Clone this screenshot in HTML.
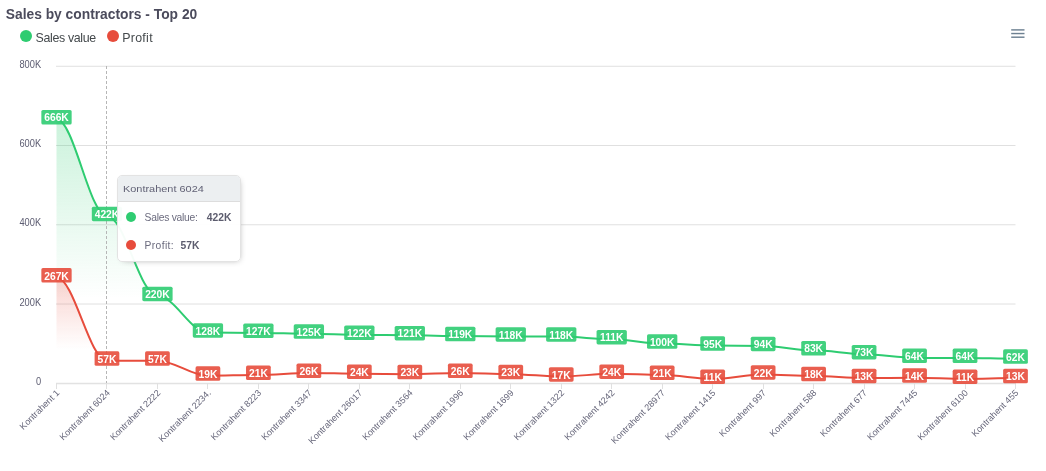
<!DOCTYPE html>
<html><head><meta charset="utf-8"><style>
html,body{margin:0;padding:0;background:#fff;width:1046px;height:471px;overflow:hidden;position:relative}
</style></head><body>
<svg width="1046" height="471" viewBox="0 0 1046 471" style="position:absolute;left:0;top:0;will-change:transform"><defs><linearGradient id="gG" x1="0" y1="0" x2="0" y2="1"><stop offset="0" stop-color="#2ecc71" stop-opacity="0.25"/><stop offset="0.68" stop-color="#2ecc71" stop-opacity="0"/></linearGradient><linearGradient id="gR" x1="0" y1="0" x2="0" y2="1"><stop offset="0" stop-color="#e74c3c" stop-opacity="0.25"/><stop offset="0.68" stop-color="#e74c3c" stop-opacity="0"/></linearGradient></defs><text x="5.8" y="19.1" font-family="'Liberation Sans', sans-serif" font-weight="bold" font-size="13.8" fill="#4b4b5c">Sales by contractors - Top 20</text><circle cx="26" cy="36" r="6" fill="#2ecc71"/><text x="35.6" y="41.9" font-family="'Liberation Sans', sans-serif" font-size="12.4" letter-spacing="-0.35" fill="#44494c">Sales value</text><circle cx="113" cy="36" r="6" fill="#e74c3c"/><text x="122.2" y="41.9" font-family="'Liberation Sans', sans-serif" font-size="12.4" letter-spacing="0.3" fill="#44494c">Profit</text><rect x="1011.2" y="29.18" width="13.3" height="1.44" fill="#6e8192"/><rect x="1011.2" y="32.83" width="13.3" height="1.44" fill="#6e8192"/><rect x="1011.2" y="36.48" width="13.3" height="1.44" fill="#6e8192"/><line x1="56.0" y1="66.25" x2="1015.5" y2="66.25" stroke="#e0e0e0" stroke-width="1"/><line x1="56.0" y1="145.5" x2="1015.5" y2="145.5" stroke="#e0e0e0" stroke-width="1"/><line x1="56.0" y1="224.75" x2="1015.5" y2="224.75" stroke="#e0e0e0" stroke-width="1"/><line x1="56.0" y1="304.0" x2="1015.5" y2="304.0" stroke="#e0e0e0" stroke-width="1"/><line x1="56.0" y1="383.25" x2="1015.5" y2="383.25" stroke="#e0e0e0" stroke-width="1"/><text transform="translate(41.1 67.75) scale(0.93 1)" text-anchor="end" font-family="'Liberation Sans', sans-serif" font-size="10" fill="#5d5d72">800K</text><text transform="translate(41.1 147.00) scale(0.93 1)" text-anchor="end" font-family="'Liberation Sans', sans-serif" font-size="10" fill="#5d5d72">600K</text><text transform="translate(41.1 226.25) scale(0.93 1)" text-anchor="end" font-family="'Liberation Sans', sans-serif" font-size="10" fill="#5d5d72">400K</text><text transform="translate(41.1 305.50) scale(0.93 1)" text-anchor="end" font-family="'Liberation Sans', sans-serif" font-size="10" fill="#5d5d72">200K</text><text transform="translate(41.1 384.75) scale(0.93 1)" text-anchor="end" font-family="'Liberation Sans', sans-serif" font-size="10" fill="#5d5d72">0</text><path d="M56.50,119.35 C74.17,119.35 89.31,216.03 106.97,216.03 C124.64,216.03 139.78,296.07 157.45,296.07 C175.11,296.07 190.26,332.53 207.92,332.53 C225.59,332.53 240.73,332.93 258.39,332.93 C276.06,332.93 291.20,333.72 308.87,333.72 C326.53,333.72 341.68,334.91 359.34,334.91 C377.01,334.91 392.15,335.30 409.82,335.30 C427.48,335.30 442.62,336.10 460.29,336.10 C477.96,336.10 493.10,336.49 510.76,336.49 C528.43,336.49 543.57,336.49 561.24,336.49 C578.90,336.49 594.04,339.27 611.71,339.27 C629.38,339.27 644.52,343.62 662.18,343.62 C679.85,343.62 694.99,345.61 712.66,345.61 C730.32,345.61 745.47,346.00 763.13,346.00 C780.80,346.00 795.94,350.36 813.61,350.36 C831.27,350.36 846.41,354.32 864.08,354.32 C881.74,354.32 896.89,357.89 914.55,357.89 C932.22,357.89 947.36,357.89 965.03,357.89 C982.69,357.89 997.83,358.68 1015.50,358.68 L1015.5,383.25 L56.5,383.25 Z" fill="url(#gG)"/><path d="M56.50,277.45 C74.17,277.45 89.31,360.66 106.97,360.66 C124.64,360.66 139.78,360.66 157.45,360.66 C175.11,360.66 190.26,375.72 207.92,375.72 C225.59,375.72 240.73,374.93 258.39,374.93 C276.06,374.93 291.20,372.95 308.87,372.95 C326.53,372.95 341.68,373.74 359.34,373.74 C377.01,373.74 392.15,374.14 409.82,374.14 C427.48,374.14 442.62,372.95 460.29,372.95 C477.96,372.95 493.10,374.14 510.76,374.14 C528.43,374.14 543.57,376.51 561.24,376.51 C578.90,376.51 594.04,373.74 611.71,373.74 C629.38,373.74 644.52,374.93 662.18,374.93 C679.85,374.93 694.99,378.89 712.66,378.89 C730.32,378.89 745.47,374.53 763.13,374.53 C780.80,374.53 795.94,376.12 813.61,376.12 C831.27,376.12 846.41,378.10 864.08,378.10 C881.74,378.10 896.89,377.70 914.55,377.70 C932.22,377.70 947.36,378.89 965.03,378.89 C982.69,378.89 997.83,378.10 1015.50,378.10 L1015.5,383.25 L56.5,383.25 Z" fill="url(#gR)"/><line x1="106.5" y1="66" x2="106.5" y2="383" stroke="#b6b6b6" stroke-width="1" stroke-dasharray="3 2"/><line x1="56.0" y1="383.8" x2="1016.0" y2="383.8" stroke="#e0e0e0" stroke-width="1.1"/><line x1="56.5" y1="383" x2="56.5" y2="389" stroke="#e0e0e0" stroke-width="1"/><line x1="106.5" y1="383" x2="106.5" y2="389" stroke="#e0e0e0" stroke-width="1"/><line x1="157.5" y1="383" x2="157.5" y2="389" stroke="#e0e0e0" stroke-width="1"/><line x1="207.5" y1="383" x2="207.5" y2="389" stroke="#e0e0e0" stroke-width="1"/><line x1="258.5" y1="383" x2="258.5" y2="389" stroke="#e0e0e0" stroke-width="1"/><line x1="308.5" y1="383" x2="308.5" y2="389" stroke="#e0e0e0" stroke-width="1"/><line x1="359.5" y1="383" x2="359.5" y2="389" stroke="#e0e0e0" stroke-width="1"/><line x1="409.5" y1="383" x2="409.5" y2="389" stroke="#e0e0e0" stroke-width="1"/><line x1="460.5" y1="383" x2="460.5" y2="389" stroke="#e0e0e0" stroke-width="1"/><line x1="510.5" y1="383" x2="510.5" y2="389" stroke="#e0e0e0" stroke-width="1"/><line x1="561.5" y1="383" x2="561.5" y2="389" stroke="#e0e0e0" stroke-width="1"/><line x1="611.5" y1="383" x2="611.5" y2="389" stroke="#e0e0e0" stroke-width="1"/><line x1="662.5" y1="383" x2="662.5" y2="389" stroke="#e0e0e0" stroke-width="1"/><line x1="712.5" y1="383" x2="712.5" y2="389" stroke="#e0e0e0" stroke-width="1"/><line x1="763.5" y1="383" x2="763.5" y2="389" stroke="#e0e0e0" stroke-width="1"/><line x1="813.5" y1="383" x2="813.5" y2="389" stroke="#e0e0e0" stroke-width="1"/><line x1="864.5" y1="383" x2="864.5" y2="389" stroke="#e0e0e0" stroke-width="1"/><line x1="914.5" y1="383" x2="914.5" y2="389" stroke="#e0e0e0" stroke-width="1"/><line x1="965.5" y1="383" x2="965.5" y2="389" stroke="#e0e0e0" stroke-width="1"/><line x1="1015.5" y1="383" x2="1015.5" y2="389" stroke="#e0e0e0" stroke-width="1"/><path d="M56.50,119.35 C74.17,119.35 89.31,216.03 106.97,216.03 C124.64,216.03 139.78,296.07 157.45,296.07 C175.11,296.07 190.26,332.53 207.92,332.53 C225.59,332.53 240.73,332.93 258.39,332.93 C276.06,332.93 291.20,333.72 308.87,333.72 C326.53,333.72 341.68,334.91 359.34,334.91 C377.01,334.91 392.15,335.30 409.82,335.30 C427.48,335.30 442.62,336.10 460.29,336.10 C477.96,336.10 493.10,336.49 510.76,336.49 C528.43,336.49 543.57,336.49 561.24,336.49 C578.90,336.49 594.04,339.27 611.71,339.27 C629.38,339.27 644.52,343.62 662.18,343.62 C679.85,343.62 694.99,345.61 712.66,345.61 C730.32,345.61 745.47,346.00 763.13,346.00 C780.80,346.00 795.94,350.36 813.61,350.36 C831.27,350.36 846.41,354.32 864.08,354.32 C881.74,354.32 896.89,357.89 914.55,357.89 C932.22,357.89 947.36,357.89 965.03,357.89 C982.69,357.89 997.83,358.68 1015.50,358.68" fill="none" stroke="#2ecc71" stroke-width="2" stroke-linecap="butt"/><path d="M56.50,277.45 C74.17,277.45 89.31,360.66 106.97,360.66 C124.64,360.66 139.78,360.66 157.45,360.66 C175.11,360.66 190.26,375.72 207.92,375.72 C225.59,375.72 240.73,374.93 258.39,374.93 C276.06,374.93 291.20,372.95 308.87,372.95 C326.53,372.95 341.68,373.74 359.34,373.74 C377.01,373.74 392.15,374.14 409.82,374.14 C427.48,374.14 442.62,372.95 460.29,372.95 C477.96,372.95 493.10,374.14 510.76,374.14 C528.43,374.14 543.57,376.51 561.24,376.51 C578.90,376.51 594.04,373.74 611.71,373.74 C629.38,373.74 644.52,374.93 662.18,374.93 C679.85,374.93 694.99,378.89 712.66,378.89 C730.32,378.89 745.47,374.53 763.13,374.53 C780.80,374.53 795.94,376.12 813.61,376.12 C831.27,376.12 846.41,378.10 864.08,378.10 C881.74,378.10 896.89,377.70 914.55,377.70 C932.22,377.70 947.36,378.89 965.03,378.89 C982.69,378.89 997.83,378.10 1015.50,378.10" fill="none" stroke="#e74c3c" stroke-width="2" stroke-linecap="butt"/><text x="60.00" y="393.5" text-anchor="end" transform="rotate(-45 60.00 393.5)" font-family="'Liberation Sans', sans-serif" font-size="9.05" fill="#66667a">Kontrahent 1</text><text x="110.47" y="393.5" text-anchor="end" transform="rotate(-45 110.47 393.5)" font-family="'Liberation Sans', sans-serif" font-size="9.05" fill="#66667a">Kontrahent 6024</text><text x="160.95" y="393.5" text-anchor="end" transform="rotate(-45 160.95 393.5)" font-family="'Liberation Sans', sans-serif" font-size="9.05" fill="#66667a">Kontrahent 2222</text><text x="211.42" y="393.5" text-anchor="end" transform="rotate(-45 211.42 393.5)" font-family="'Liberation Sans', sans-serif" font-size="9.05" fill="#66667a">Kontrahent 2234.</text><text x="261.89" y="393.5" text-anchor="end" transform="rotate(-45 261.89 393.5)" font-family="'Liberation Sans', sans-serif" font-size="9.05" fill="#66667a">Kontrahent 8223</text><text x="312.37" y="393.5" text-anchor="end" transform="rotate(-45 312.37 393.5)" font-family="'Liberation Sans', sans-serif" font-size="9.05" fill="#66667a">Kontrahent 3347</text><text x="362.84" y="393.5" text-anchor="end" transform="rotate(-45 362.84 393.5)" font-family="'Liberation Sans', sans-serif" font-size="9.05" fill="#66667a">Kontrahent 26017</text><text x="413.32" y="393.5" text-anchor="end" transform="rotate(-45 413.32 393.5)" font-family="'Liberation Sans', sans-serif" font-size="9.05" fill="#66667a">Kontrahent 3564</text><text x="463.79" y="393.5" text-anchor="end" transform="rotate(-45 463.79 393.5)" font-family="'Liberation Sans', sans-serif" font-size="9.05" fill="#66667a">Kontrahent 1996</text><text x="514.26" y="393.5" text-anchor="end" transform="rotate(-45 514.26 393.5)" font-family="'Liberation Sans', sans-serif" font-size="9.05" fill="#66667a">Kontrahent 1699</text><text x="564.74" y="393.5" text-anchor="end" transform="rotate(-45 564.74 393.5)" font-family="'Liberation Sans', sans-serif" font-size="9.05" fill="#66667a">Kontrahent 1322</text><text x="615.21" y="393.5" text-anchor="end" transform="rotate(-45 615.21 393.5)" font-family="'Liberation Sans', sans-serif" font-size="9.05" fill="#66667a">Kontrahent 4242</text><text x="665.68" y="393.5" text-anchor="end" transform="rotate(-45 665.68 393.5)" font-family="'Liberation Sans', sans-serif" font-size="9.05" fill="#66667a">Kontrahent 28977</text><text x="716.16" y="393.5" text-anchor="end" transform="rotate(-45 716.16 393.5)" font-family="'Liberation Sans', sans-serif" font-size="9.05" fill="#66667a">Kontrahent 1415</text><text x="766.63" y="393.5" text-anchor="end" transform="rotate(-45 766.63 393.5)" font-family="'Liberation Sans', sans-serif" font-size="9.05" fill="#66667a">Kontrahent 997</text><text x="817.11" y="393.5" text-anchor="end" transform="rotate(-45 817.11 393.5)" font-family="'Liberation Sans', sans-serif" font-size="9.05" fill="#66667a">Kontrahent 588</text><text x="867.58" y="393.5" text-anchor="end" transform="rotate(-45 867.58 393.5)" font-family="'Liberation Sans', sans-serif" font-size="9.05" fill="#66667a">Kontrahent 677</text><text x="918.05" y="393.5" text-anchor="end" transform="rotate(-45 918.05 393.5)" font-family="'Liberation Sans', sans-serif" font-size="9.05" fill="#66667a">Kontrahent 7445</text><text x="968.53" y="393.5" text-anchor="end" transform="rotate(-45 968.53 393.5)" font-family="'Liberation Sans', sans-serif" font-size="9.05" fill="#66667a">Kontrahent 6100</text><text x="1019.00" y="393.5" text-anchor="end" transform="rotate(-45 1019.00 393.5)" font-family="'Liberation Sans', sans-serif" font-size="9.05" fill="#66667a">Kontrahent 455</text><rect x="41.35" y="110.00" width="30.30" height="14.5" rx="1.6" fill="#2ecc71" fill-opacity="0.9"/><text transform="translate(56.50 121.45) scale(0.2575 0.25)" text-anchor="middle" font-family="'Liberation Sans', sans-serif" font-weight="bold" font-size="40" fill="#fff">666K</text><rect x="91.82" y="206.68" width="30.30" height="14.5" rx="1.6" fill="#2ecc71" fill-opacity="0.9"/><text transform="translate(106.97 218.13) scale(0.2575 0.25)" text-anchor="middle" font-family="'Liberation Sans', sans-serif" font-weight="bold" font-size="40" fill="#fff">422K</text><rect x="142.30" y="286.72" width="30.30" height="14.5" rx="1.6" fill="#2ecc71" fill-opacity="0.9"/><text transform="translate(157.45 298.18) scale(0.2575 0.25)" text-anchor="middle" font-family="'Liberation Sans', sans-serif" font-weight="bold" font-size="40" fill="#fff">220K</text><rect x="192.77" y="323.18" width="30.30" height="14.5" rx="1.6" fill="#2ecc71" fill-opacity="0.9"/><text transform="translate(207.92 334.63) scale(0.2575 0.25)" text-anchor="middle" font-family="'Liberation Sans', sans-serif" font-weight="bold" font-size="40" fill="#fff">128K</text><rect x="243.24" y="323.58" width="30.30" height="14.5" rx="1.6" fill="#2ecc71" fill-opacity="0.9"/><text transform="translate(258.39 335.03) scale(0.2575 0.25)" text-anchor="middle" font-family="'Liberation Sans', sans-serif" font-weight="bold" font-size="40" fill="#fff">127K</text><rect x="293.72" y="324.37" width="30.30" height="14.5" rx="1.6" fill="#2ecc71" fill-opacity="0.9"/><text transform="translate(308.87 335.82) scale(0.2575 0.25)" text-anchor="middle" font-family="'Liberation Sans', sans-serif" font-weight="bold" font-size="40" fill="#fff">125K</text><rect x="344.19" y="325.56" width="30.30" height="14.5" rx="1.6" fill="#2ecc71" fill-opacity="0.9"/><text transform="translate(359.34 337.01) scale(0.2575 0.25)" text-anchor="middle" font-family="'Liberation Sans', sans-serif" font-weight="bold" font-size="40" fill="#fff">122K</text><rect x="394.67" y="325.95" width="30.30" height="14.5" rx="1.6" fill="#2ecc71" fill-opacity="0.9"/><text transform="translate(409.82 337.40) scale(0.2575 0.25)" text-anchor="middle" font-family="'Liberation Sans', sans-serif" font-weight="bold" font-size="40" fill="#fff">121K</text><rect x="445.14" y="326.75" width="30.30" height="14.5" rx="1.6" fill="#2ecc71" fill-opacity="0.9"/><text transform="translate(460.29 338.20) scale(0.2575 0.25)" text-anchor="middle" font-family="'Liberation Sans', sans-serif" font-weight="bold" font-size="40" fill="#fff">119K</text><rect x="495.61" y="327.14" width="30.30" height="14.5" rx="1.6" fill="#2ecc71" fill-opacity="0.9"/><text transform="translate(510.76 338.59) scale(0.2575 0.25)" text-anchor="middle" font-family="'Liberation Sans', sans-serif" font-weight="bold" font-size="40" fill="#fff">118K</text><rect x="546.09" y="327.14" width="30.30" height="14.5" rx="1.6" fill="#2ecc71" fill-opacity="0.9"/><text transform="translate(561.24 338.59) scale(0.2575 0.25)" text-anchor="middle" font-family="'Liberation Sans', sans-serif" font-weight="bold" font-size="40" fill="#fff">118K</text><rect x="596.56" y="329.92" width="30.30" height="14.5" rx="1.6" fill="#2ecc71" fill-opacity="0.9"/><text transform="translate(611.71 341.37) scale(0.2575 0.25)" text-anchor="middle" font-family="'Liberation Sans', sans-serif" font-weight="bold" font-size="40" fill="#fff">111K</text><rect x="647.03" y="334.27" width="30.30" height="14.5" rx="1.6" fill="#2ecc71" fill-opacity="0.9"/><text transform="translate(662.18 345.73) scale(0.2575 0.25)" text-anchor="middle" font-family="'Liberation Sans', sans-serif" font-weight="bold" font-size="40" fill="#fff">100K</text><rect x="700.29" y="336.26" width="24.74" height="14.5" rx="1.6" fill="#2ecc71" fill-opacity="0.9"/><text transform="translate(712.66 347.71) scale(0.2575 0.25)" text-anchor="middle" font-family="'Liberation Sans', sans-serif" font-weight="bold" font-size="40" fill="#fff">95K</text><rect x="750.76" y="336.65" width="24.74" height="14.5" rx="1.6" fill="#2ecc71" fill-opacity="0.9"/><text transform="translate(763.13 348.10) scale(0.2575 0.25)" text-anchor="middle" font-family="'Liberation Sans', sans-serif" font-weight="bold" font-size="40" fill="#fff">94K</text><rect x="801.24" y="341.01" width="24.74" height="14.5" rx="1.6" fill="#2ecc71" fill-opacity="0.9"/><text transform="translate(813.61 352.46) scale(0.2575 0.25)" text-anchor="middle" font-family="'Liberation Sans', sans-serif" font-weight="bold" font-size="40" fill="#fff">83K</text><rect x="851.71" y="344.97" width="24.74" height="14.5" rx="1.6" fill="#2ecc71" fill-opacity="0.9"/><text transform="translate(864.08 356.42) scale(0.2575 0.25)" text-anchor="middle" font-family="'Liberation Sans', sans-serif" font-weight="bold" font-size="40" fill="#fff">73K</text><rect x="902.18" y="348.54" width="24.74" height="14.5" rx="1.6" fill="#2ecc71" fill-opacity="0.9"/><text transform="translate(914.55 359.99) scale(0.2575 0.25)" text-anchor="middle" font-family="'Liberation Sans', sans-serif" font-weight="bold" font-size="40" fill="#fff">64K</text><rect x="952.66" y="348.54" width="24.74" height="14.5" rx="1.6" fill="#2ecc71" fill-opacity="0.9"/><text transform="translate(965.03 359.99) scale(0.2575 0.25)" text-anchor="middle" font-family="'Liberation Sans', sans-serif" font-weight="bold" font-size="40" fill="#fff">64K</text><rect x="1003.13" y="349.33" width="24.74" height="14.5" rx="1.6" fill="#2ecc71" fill-opacity="0.9"/><text transform="translate(1015.50 360.78) scale(0.2575 0.25)" text-anchor="middle" font-family="'Liberation Sans', sans-serif" font-weight="bold" font-size="40" fill="#fff">62K</text><rect x="41.35" y="268.10" width="30.30" height="14.5" rx="1.6" fill="#e74c3c" fill-opacity="0.9"/><text transform="translate(56.50 279.55) scale(0.2575 0.25)" text-anchor="middle" font-family="'Liberation Sans', sans-serif" font-weight="bold" font-size="40" fill="#fff">267K</text><rect x="94.60" y="351.31" width="24.74" height="14.5" rx="1.6" fill="#e74c3c" fill-opacity="0.9"/><text transform="translate(106.97 362.76) scale(0.2575 0.25)" text-anchor="middle" font-family="'Liberation Sans', sans-serif" font-weight="bold" font-size="40" fill="#fff">57K</text><rect x="145.08" y="351.31" width="24.74" height="14.5" rx="1.6" fill="#e74c3c" fill-opacity="0.9"/><text transform="translate(157.45 362.76) scale(0.2575 0.25)" text-anchor="middle" font-family="'Liberation Sans', sans-serif" font-weight="bold" font-size="40" fill="#fff">57K</text><rect x="195.55" y="366.37" width="24.74" height="14.5" rx="1.6" fill="#e74c3c" fill-opacity="0.9"/><text transform="translate(207.92 377.82) scale(0.2575 0.25)" text-anchor="middle" font-family="'Liberation Sans', sans-serif" font-weight="bold" font-size="40" fill="#fff">19K</text><rect x="246.02" y="365.58" width="24.74" height="14.5" rx="1.6" fill="#e74c3c" fill-opacity="0.9"/><text transform="translate(258.39 377.03) scale(0.2575 0.25)" text-anchor="middle" font-family="'Liberation Sans', sans-serif" font-weight="bold" font-size="40" fill="#fff">21K</text><rect x="296.50" y="363.60" width="24.74" height="14.5" rx="1.6" fill="#e74c3c" fill-opacity="0.9"/><text transform="translate(308.87 375.05) scale(0.2575 0.25)" text-anchor="middle" font-family="'Liberation Sans', sans-serif" font-weight="bold" font-size="40" fill="#fff">26K</text><rect x="346.97" y="364.39" width="24.74" height="14.5" rx="1.6" fill="#e74c3c" fill-opacity="0.9"/><text transform="translate(359.34 375.84) scale(0.2575 0.25)" text-anchor="middle" font-family="'Liberation Sans', sans-serif" font-weight="bold" font-size="40" fill="#fff">24K</text><rect x="397.45" y="364.79" width="24.74" height="14.5" rx="1.6" fill="#e74c3c" fill-opacity="0.9"/><text transform="translate(409.82 376.24) scale(0.2575 0.25)" text-anchor="middle" font-family="'Liberation Sans', sans-serif" font-weight="bold" font-size="40" fill="#fff">23K</text><rect x="447.92" y="363.60" width="24.74" height="14.5" rx="1.6" fill="#e74c3c" fill-opacity="0.9"/><text transform="translate(460.29 375.05) scale(0.2575 0.25)" text-anchor="middle" font-family="'Liberation Sans', sans-serif" font-weight="bold" font-size="40" fill="#fff">26K</text><rect x="498.39" y="364.79" width="24.74" height="14.5" rx="1.6" fill="#e74c3c" fill-opacity="0.9"/><text transform="translate(510.76 376.24) scale(0.2575 0.25)" text-anchor="middle" font-family="'Liberation Sans', sans-serif" font-weight="bold" font-size="40" fill="#fff">23K</text><rect x="548.87" y="367.16" width="24.74" height="14.5" rx="1.6" fill="#e74c3c" fill-opacity="0.9"/><text transform="translate(561.24 378.61) scale(0.2575 0.25)" text-anchor="middle" font-family="'Liberation Sans', sans-serif" font-weight="bold" font-size="40" fill="#fff">17K</text><rect x="599.34" y="364.39" width="24.74" height="14.5" rx="1.6" fill="#e74c3c" fill-opacity="0.9"/><text transform="translate(611.71 375.84) scale(0.2575 0.25)" text-anchor="middle" font-family="'Liberation Sans', sans-serif" font-weight="bold" font-size="40" fill="#fff">24K</text><rect x="649.81" y="365.58" width="24.74" height="14.5" rx="1.6" fill="#e74c3c" fill-opacity="0.9"/><text transform="translate(662.18 377.03) scale(0.2575 0.25)" text-anchor="middle" font-family="'Liberation Sans', sans-serif" font-weight="bold" font-size="40" fill="#fff">21K</text><rect x="700.29" y="369.54" width="24.74" height="14.5" rx="1.6" fill="#e74c3c" fill-opacity="0.9"/><text transform="translate(712.66 380.99) scale(0.2575 0.25)" text-anchor="middle" font-family="'Liberation Sans', sans-serif" font-weight="bold" font-size="40" fill="#fff">11K</text><rect x="750.76" y="365.18" width="24.74" height="14.5" rx="1.6" fill="#e74c3c" fill-opacity="0.9"/><text transform="translate(763.13 376.63) scale(0.2575 0.25)" text-anchor="middle" font-family="'Liberation Sans', sans-serif" font-weight="bold" font-size="40" fill="#fff">22K</text><rect x="801.24" y="366.77" width="24.74" height="14.5" rx="1.6" fill="#e74c3c" fill-opacity="0.9"/><text transform="translate(813.61 378.22) scale(0.2575 0.25)" text-anchor="middle" font-family="'Liberation Sans', sans-serif" font-weight="bold" font-size="40" fill="#fff">18K</text><rect x="851.71" y="368.75" width="24.74" height="14.5" rx="1.6" fill="#e74c3c" fill-opacity="0.9"/><text transform="translate(864.08 380.20) scale(0.2575 0.25)" text-anchor="middle" font-family="'Liberation Sans', sans-serif" font-weight="bold" font-size="40" fill="#fff">13K</text><rect x="902.18" y="368.35" width="24.74" height="14.5" rx="1.6" fill="#e74c3c" fill-opacity="0.9"/><text transform="translate(914.55 379.80) scale(0.2575 0.25)" text-anchor="middle" font-family="'Liberation Sans', sans-serif" font-weight="bold" font-size="40" fill="#fff">14K</text><rect x="952.66" y="369.54" width="24.74" height="14.5" rx="1.6" fill="#e74c3c" fill-opacity="0.9"/><text transform="translate(965.03 380.99) scale(0.2575 0.25)" text-anchor="middle" font-family="'Liberation Sans', sans-serif" font-weight="bold" font-size="40" fill="#fff">11K</text><rect x="1003.13" y="368.75" width="24.74" height="14.5" rx="1.6" fill="#e74c3c" fill-opacity="0.9"/><text transform="translate(1015.50 380.20) scale(0.2575 0.25)" text-anchor="middle" font-family="'Liberation Sans', sans-serif" font-weight="bold" font-size="40" fill="#fff">13K</text></svg>
<div style="position:absolute;left:117px;top:175px;width:122px;height:85px;background:rgba(255,255,255,0.96);border:1px solid #e3e3e3;border-radius:5px;box-shadow:2px 2px 6px -4px #999;overflow:hidden;will-change:transform;font-family:'Liberation Sans', sans-serif;">
<div style="height:25px;background:#eceff1;border-bottom:1px solid #ddd;position:relative;"><span style="position:absolute;left:5.0px;top:7.3px;font-size:9.8px;line-height:12px;color:#626276;white-space:nowrap;transform:scale(1.115,1);transform-origin:0 0">Kontrahent 6024</span></div>
<div style="position:absolute;left:8px;top:35.5px;width:10px;height:10px;border-radius:50%;background:#2ecc71"></div>
<div style="position:absolute;left:26.6px;top:36.2px;font-size:10.3px;letter-spacing:-0.25px;line-height:12px;color:#6b6b7e;white-space:nowrap">Sales value:<b style="margin-left:9px;letter-spacing:0;color:#5c5c6e">422K</b></div>
<div style="position:absolute;left:8px;top:63.5px;width:10px;height:10px;border-radius:50%;background:#e74c3c"></div>
<div style="position:absolute;left:26.6px;top:64.3px;font-size:10.3px;letter-spacing:0.35px;line-height:12px;color:#6b6b7e;white-space:nowrap">Profit:<b style="margin-left:6.55px;letter-spacing:0;color:#5c5c6e">57K</b></div>
</div>
</body></html>
